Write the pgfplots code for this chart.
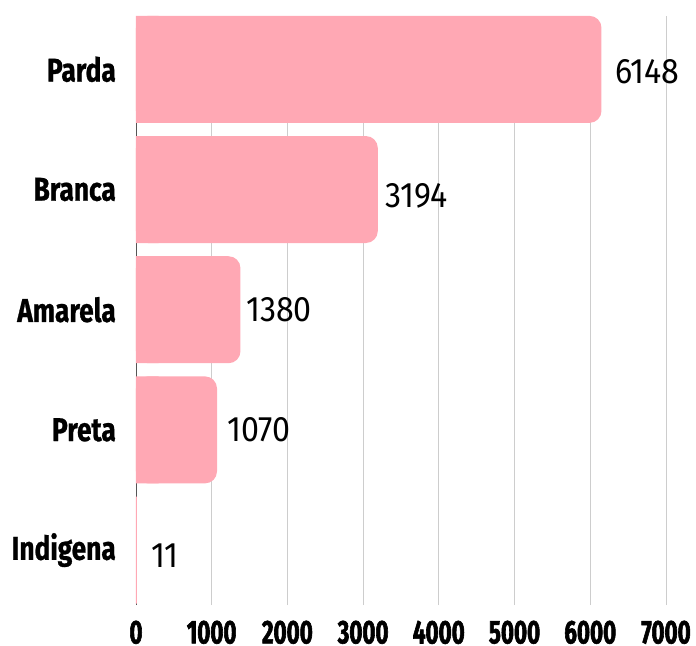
\documentclass[border=0pt]{standalone}
\usepackage{fontspec}
\setmainfont{Fira Sans}
\newfontfamily\ylabfont{Fira Sans}[FakeStretch=0.8, BoldFeatures={FakeBold=0.8}]
\newfontfamily\xlabfont{Fira Sans}[FakeStretch=0.68, BoldFeatures={FakeBold=1.8}]
\newfontfamily\vallabfont{Fira Sans}[FakeStretch=0.91]
\usepackage{pgfplots}
\usepackage{pgfplotstable}
\pgfplotsset{compat=1.18}
\definecolor{barpink}{HTML}{FFA8B4}
\definecolor{gridgray}{HTML}{CDCDCD}
\definecolor{axisgray}{HTML}{555555}

% value labels: value, label position (lx, ly)
\pgfplotstableread{
y val lx ly lab
4 6148 6327 3.983 6148
3 3194 3289 2.950 3194
2 1380 1453 2.000 1380
1 1070 1202 1.004 1070
0 11 198 -0.050 11
}\datatable
% bars drawn with rounded ends
\pgfplotstableread{
y val
4 6148
3 3194
2 1380
1 1070
}\roundtable
% square left ends of the bars
\pgfplotstableread{
y val
4 300
3 300
2 300
1 300
0 11
}\squaretable

\begin{document}
\begin{tikzpicture}
\useasboundingbox (-136bp,-41bp) rectangle (560bp,605bp);
\begin{axis}[
  at={(0,0)}, anchor=south west,
  scale only axis,
  width=530bp, height=589bp,
  xmin=0, xmax=7000,
  ymin=-0.457, ymax=4.444,
  enlargelimits=false,
  clip=false,
  axis y line*=left,
  axis x line*=bottom,
  x axis line style={draw=none},
  y axis line style={draw=axisgray, line width=0.8bp},
  xmajorgrids,
  grid style={draw=gridgray, line width=0.8bp},
  major tick length=0pt,
  xtick={0,1000,2000,3000,4000,5000,6000,7000},
  xticklabels={0,1000,2000,3000,4000,5000,6000,7000},
  ytick={0,1,2,3,4},
  yticklabels={Indigena,Preta,Amarela,Branca,Parda},
  xticklabel style={font=\xlabfont\bfseries\fontsize{33}{33}\selectfont, anchor=north, inner sep=0pt, yshift=-15.5bp},
  yticklabel style={font=\ylabfont\bfseries\fontsize{33}{33}\selectfont, anchor=east, inner sep=0pt, xshift=-20bp},
]
\addplot[xbar, bar shift=0pt, bar width=107bp, fill=barpink, draw=none, rounded corners=12bp]
  table[x=val, y=y] {\roundtable};
\addplot[xbar, bar shift=0pt, bar width=107bp, fill=barpink, draw=none]
  table[x=val, y=y] {\squaretable};
\addplot[draw=none, mark=none, point meta=explicit symbolic,
  nodes near coords,
  every node near coord/.append style={font=\vallabfont\fontsize{35.5}{35.5}\selectfont, text=black, anchor=west, inner sep=0pt}]
  table[x=lx, y=ly, meta=lab] {\datatable};
\end{axis}
\end{tikzpicture}
\end{document}
